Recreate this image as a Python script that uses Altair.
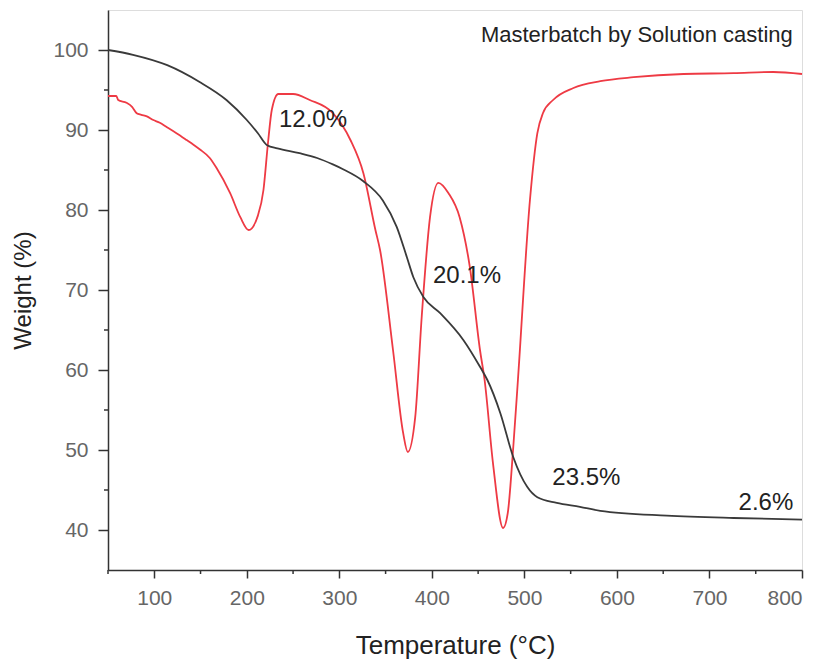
import altair as alt
import pandas as pd

# TG curve (weight %)
tg_temp = [50, 77, 114, 149, 178, 200, 212, 222, 233, 257, 276, 293, 304, 326, 347,
           362, 373, 380, 391, 409, 434, 452, 460, 474, 488, 503, 514, 535, 560, 582,
           654, 726, 800]
tg_weight = [100.0, 99.4, 98.1, 96.0, 93.75, 91.25, 89.6, 88.1, 87.7, 87.1, 86.5, 85.7,
             85.1, 83.6, 81.2, 77.9, 74.1, 71.6, 69.1, 67.1, 63.75, 60.4, 58.75, 54.6,
             49.1, 45.4, 44.1, 43.4, 42.9, 42.4, 41.8, 41.5, 41.3]

# DTG curve (scaled onto the same axis)
dtg_temp = [50, 59, 61, 70, 76, 81, 86, 92, 99, 106, 113, 124, 135, 142, 149, 160, 167,
            182, 193, 202, 212, 218, 223, 227, 234, 250, 268, 293, 312, 326, 339, 344,
            358, 369, 374, 382, 389, 398, 407, 418, 430, 441, 452, 457, 466, 477, 482,
            488, 493, 506, 514, 520, 531, 553, 582, 618, 672, 726, 769, 800]
dtg_value = [94.25, 94.25, 93.75, 93.4, 92.9, 92.1, 91.9, 91.7, 91.25, 90.9, 90.4, 89.6,
             88.75, 88.2, 87.6, 86.5, 85.3, 82.1, 79.1, 77.5, 79.3, 82.5, 88.5, 92.5,
             94.5, 94.5, 93.75, 92.1, 88.75, 84.6, 77.5, 75.0, 62.5, 52.1, 49.75, 54.1,
             66.6, 79.1, 83.4, 82.1, 79.1, 72.9, 62.5, 58.75, 48.4, 40.25, 42.1, 50.4,
             58.75, 81.25, 89.6, 92.1, 93.75, 95.25, 96.1, 96.6, 97.0, 97.1, 97.25, 97.0]

# annotations
ann_text = ["12.0%", "20.1%", "23.5%", "2.6%"]
ann_temp = [271.5, 438, 567, 761]
ann_weight = [90.4, 70.9, 45.6, 42.5]

title_text = ["Masterbatch by Solution casting"]
title_temp = [790]
title_weight = [101.0]

x_major = [100, 200, 300, 400, 500, 600, 700, 800]
x_minor = [50, 150, 250, 350, 450, 550, 650, 750]
y_major = [40, 50, 60, 70, 80, 90, 100]
y_minor = [45, 55, 65, 75, 85, 95]

W, H = 694, 560
FONT = "Liberation Sans"

tg = pd.DataFrame({"T": tg_temp, "v": tg_weight})
dtg = pd.DataFrame({"T": dtg_temp, "v": dtg_value})
ann = pd.DataFrame({"T": ann_temp, "v": ann_weight, "label": ann_text})
ttl = pd.DataFrame({"T": title_temp, "v": title_weight, "label": title_text})
xmin = pd.DataFrame({"T": x_minor})
ymin = pd.DataFrame({"v": y_minor})

xscale = alt.Scale(domain=[50, 800], nice=False, zero=False)
yscale = alt.Scale(domain=[35, 105], nice=False, zero=False)

xaxis = alt.Axis(values=x_major, tickSize=8, labelFontSize=21, labelColor="#666666",
                 labelPadding=9, domainColor="#333333", tickColor="#333333",
                 tickWidth=1.5, domainWidth=1.5, grid=False,
                 title="Temperature (°C)", titleFontSize=26, titleFontWeight="normal",
                 titleColor="#222222", titlePadding=24, labelFont=FONT, titleFont=FONT)
yaxis = alt.Axis(values=y_major, tickSize=10, labelFontSize=21, labelColor="#666666",
                 labelPadding=10, domainColor="#333333", tickColor="#333333",
                 tickWidth=1.5, domainWidth=1.5, grid=False,
                 title="Weight (%)", titleFontSize=24, titleFontWeight="normal",
                 titleColor="#222222", titlePadding=17, labelFont=FONT, titleFont=FONT)

tg_line = alt.Chart(tg).mark_line(color="#3a3a3a", strokeWidth=1.8,
                                  interpolate="monotone").encode(
    x=alt.X("T:Q", scale=xscale, axis=xaxis),
    y=alt.Y("v:Q", scale=yscale, axis=yaxis),
)

dtg_line = alt.Chart(dtg).mark_line(color="#ee3a44", strokeWidth=1.8,
                                    interpolate="monotone").encode(
    x=alt.X("T:Q", scale=xscale),
    y=alt.Y("v:Q", scale=yscale),
)

ann_layer = alt.Chart(ann).mark_text(fontSize=24, font=FONT, color="#222222",
                                     align="center", baseline="alphabetic").encode(
    x=alt.X("T:Q", scale=xscale),
    y=alt.Y("v:Q", scale=yscale),
    text="label:N",
)

ttl_layer = alt.Chart(ttl).mark_text(fontSize=22, font=FONT, color="#222222",
                                     align="right", baseline="alphabetic").encode(
    x=alt.X("T:Q", scale=xscale),
    y=alt.Y("v:Q", scale=yscale),
    text="label:N",
)

xminor_layer = alt.Chart(xmin).mark_rule(color="#333333", strokeWidth=1.5).encode(
    x=alt.X("T:Q", scale=xscale),
    y=alt.value(H),
    y2=alt.value(H + 4),
)

yminor_layer = alt.Chart(ymin).mark_rule(color="#333333", strokeWidth=1.5).encode(
    y=alt.Y("v:Q", scale=yscale),
    x=alt.value(-4),
    x2=alt.value(0),
)

chart = alt.layer(
    dtg_line, tg_line, ann_layer, ttl_layer, xminor_layer, yminor_layer
).properties(
    width=W, height=H,
    padding={"left": 11, "top": 10, "right": 5, "bottom": 5},
).configure_view(
    stroke="#333333", strokeWidth=1.5
).configure(background="white")

chart.save("out.html", embed_options={"renderer": "svg", "actions": False})
